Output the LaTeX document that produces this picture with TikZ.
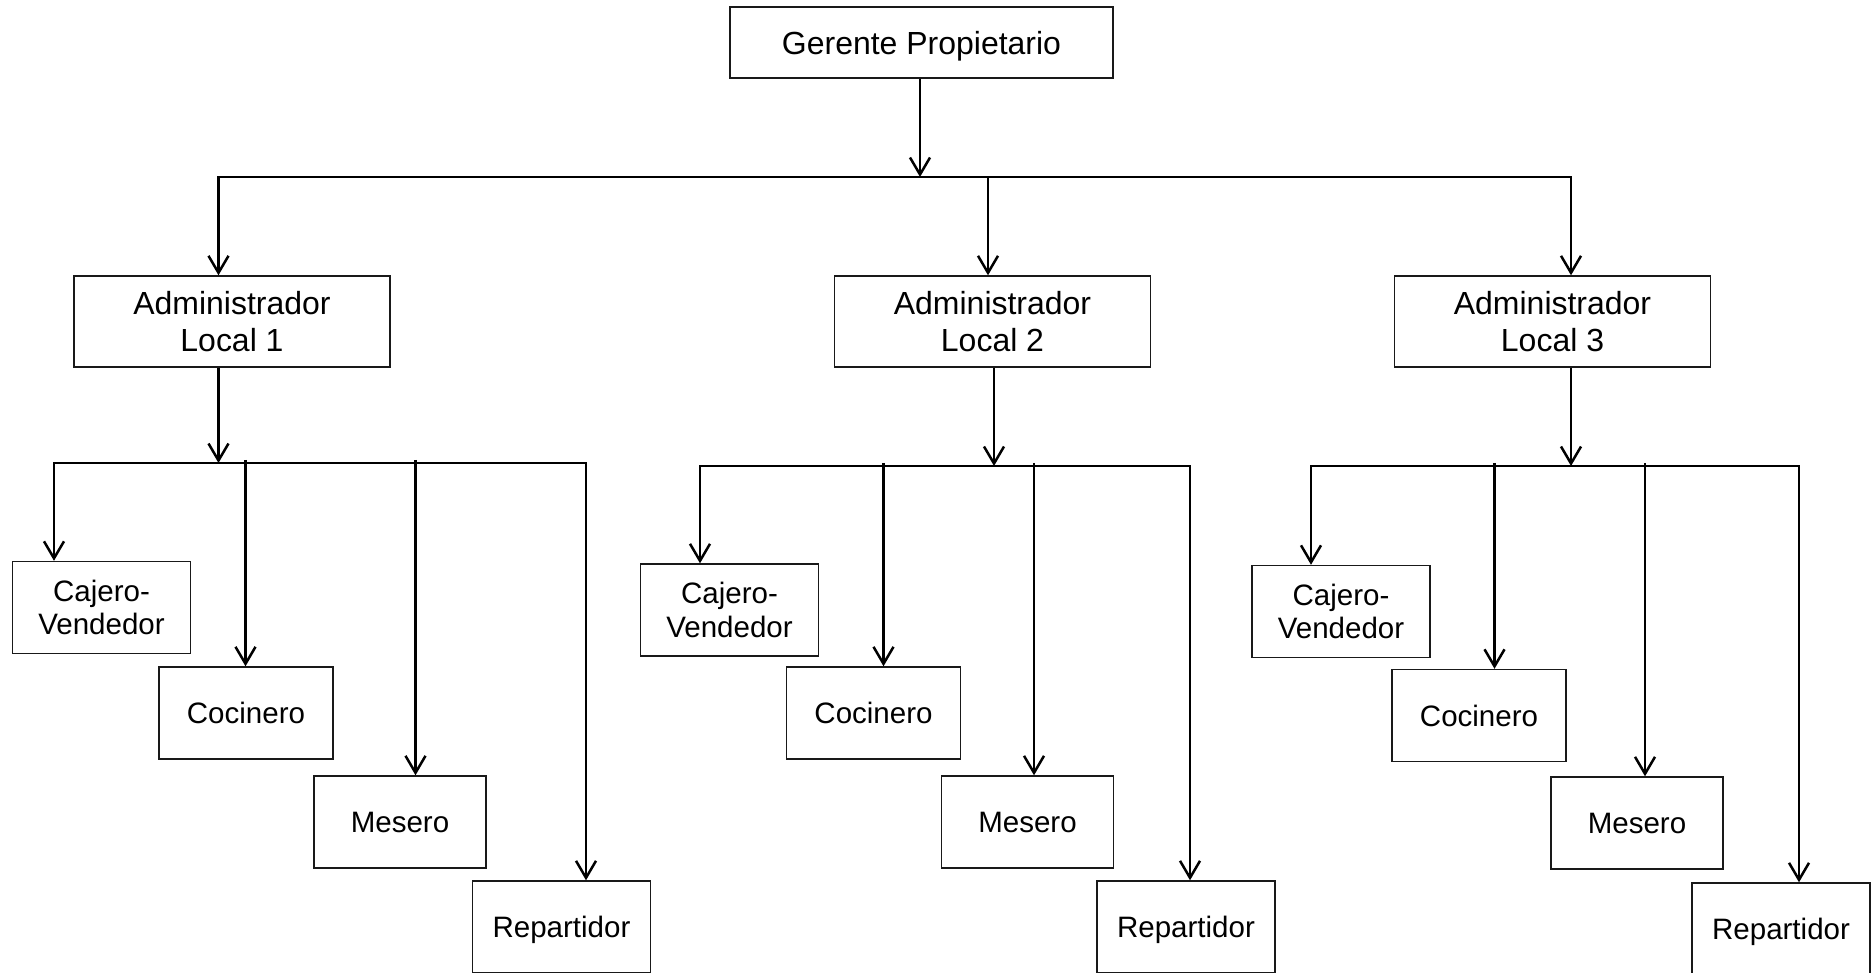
\documentclass[tikz,border=0pt]{standalone}
\usepackage{fontspec}
\setmainfont{Liberation Sans}
\usetikzlibrary{arrows.meta}
\tikzset{
  box/.style={draw=black!90, line width=0.14mm, inner sep=0pt, align=center,
    font=\fontsize{9.1pt}{10.6pt}\selectfont},
  smallbox/.style={box, minimum height=9.2mm, font=\fontsize{8.4pt}{9.5pt}\selectfont},
  topbox/.style={box, minimum width=38.3mm, minimum height=7.1mm, text depth=0pt},
  adminbox/.style={box, minimum width=31.6mm, minimum height=9.1mm},
  cajbox/.style={smallbox, minimum width=17.8mm},
  cocbox/.style={smallbox, minimum width=17.4mm},
  mesbox/.style={smallbox, minimum width=17.2mm},
  repbox/.style={smallbox, minimum width=17.8mm, text depth=0pt},
  link/.style={line width=0.25mm},
  arr/.style={link, -{Straight Barb[length=1.7mm,width=2mm]}},
  twoarr/.style={link, {Straight Barb[length=1.7mm,width=2mm]}-{Straight Barb[length=1.7mm,width=2mm]}}
}

\begin{document}
\begin{tikzpicture}[x=0.1mm, y=-0.1mm]
			%%%%% START %%%%%
			\useasboundingbox (0,0) rectangle (1872,973);
			
			\node[topbox] (gp) at (921.5,42.5) {Gerente Propietario};
			
			\node[adminbox] (a1) at (232,321.5) {Administrador\\Local 1};
			\node[adminbox] (a2) at (992.5,321.5) {Administrador\\Local 2};
			\node[adminbox] (a3) at (1552.5,321.5) {Administrador\\Local 3};
			
			% local 1
			\node[cajbox] (c1) at (101.5,607.5) {Cajero-\\Vendedor};
			\node[cocbox] (k1) at (246,713) {Cocinero};
			\node[mesbox] (m1) at (400,822) {Mesero};
			\node[repbox] (r1) at (561.5,927) {Repartidor};
			
			% local 2
			\node[cajbox] (c2) at (729.5,610) {Cajero-\\Vendedor};
			\node[cocbox] (k2) at (873.5,713) {Cocinero};
			\node[mesbox] (m2) at (1027.5,822) {Mesero};
			\node[repbox] (r2) at (1186,927) {Repartidor};
			
			% local 3
			\node[cajbox] (c3) at (1341,611.5) {Cajero-\\Vendedor};
			\node[cocbox] (k3) at (1479,715.5) {Cocinero};
			\node[mesbox] (m3) at (1637,823) {Mesero};
			\node[repbox] (r3) at (1781,929) {Repartidor};
			
			% gerente -> administradores
			\coordinate (t0) at (920,177);
			\draw[arr] (gp.south -| t0) -- (t0);
			\draw[twoarr] (218.5,0 |- a1.north) -- (218.5,177) -- (1571,177) -- (1571,0 |- a3.north);
			\draw[arr] (988,177) -- (988,0 |- a2.north);
			
			% local 1
			\coordinate (s1) at (218.5,463);
			\draw[arr] (a1.south -| s1) -- (s1);
			\draw[twoarr] (54,0 |- c1.north) -- (54,463) -- (586,463) -- (586,0 |- r1.north);
			\draw[arr] (245.5,460) -- (245.5,0 |- k1.north);
			\draw[arr] (415.5,460) -- (415.5,0 |- m1.north);
			
			% local 2
			\coordinate (s2) at (994,466);
			\draw[arr] (a2.south -| s2) -- (s2);
			\draw[twoarr] (700,0 |- c2.north) -- (700,466) -- (1190,466) -- (1190,0 |- r2.north);
			\draw[arr] (883.5,463) -- (883.5,0 |- k2.north);
			\draw[arr] (1034,463) -- (1034,0 |- m2.north);
			
			% local 3
			\coordinate (s3) at (1571,466);
			\draw[arr] (a3.south -| s3) -- (s3);
			\draw[twoarr] (1311,0 |- c3.north) -- (1311,466) -- (1799,466) -- (1799,0 |- r3.north);
			\draw[arr] (1494.5,463) -- (1494.5,0 |- k3.north);
			\draw[arr] (1645,463) -- (1645,0 |- m3.north);
			
			%%%%% END %%%%%
		\end{tikzpicture}
\end{document}
